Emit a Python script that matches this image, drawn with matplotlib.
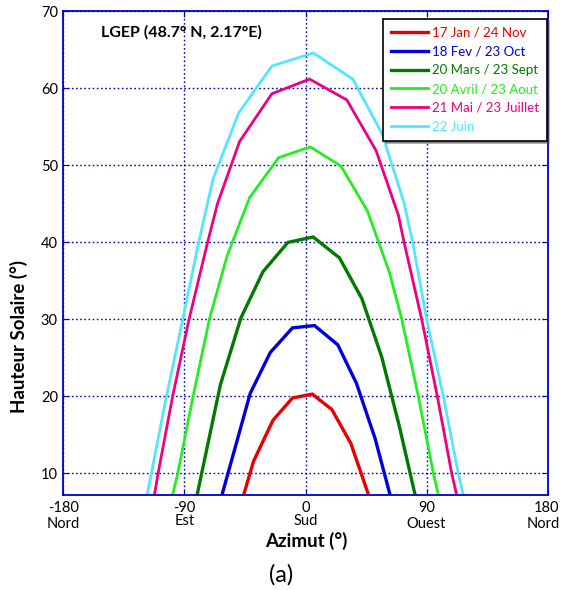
import matplotlib
matplotlib.use("Agg")
import matplotlib.pyplot as plt
import matplotlib.transforms as mtransforms

plt.rcParams['font.family'] = ['Lato', 'DejaVu Sans']

# sun paths: azimut (deg) / hauteur (deg)
labels = ['17 Jan / 24 Nov', '18 Fev / 23 Oct', '20 Mars / 23 Sept',
          '20 Avril / 23 Aout', '21 Mai / 23 Juillet', '22 Juin']
colors = ['#E60000', '#0000DD', '#007A00', '#22EE22', '#EE0080', '#55E5FF']
widths = [2.4, 2.4, 2.4, 2.0, 2.0, 2.0]

az_jan = [-46.0, -38.6, -24.2, -9.7, 5.0, 19.6, 33.7, 46.3]
alt_jan = [7.2, 11.6, 16.9, 19.8, 20.3, 18.3, 13.9, 7.5]

az_fev = [-62.1, -41.1, -26.2, -9.7, 6.7, 24.0, 37.9, 51.8, 62.9]
alt_fev = [7.2, 20.4, 25.7, 28.9, 29.2, 26.7, 21.7, 14.5, 7.2]

az_mars = [-80.6, -63.3, -48.0, -31.6, -13.1, 5.7, 25.2, 41.9, 56.7, 69.8, 81.5]
alt_mars = [7.2, 21.5, 30.2, 36.2, 40.0, 40.7, 38.0, 32.7, 25.1, 16.1, 7.2]

az_avril = [-98.8, -95.0, -83.6, -71.5, -58.4, -41.6, -20.0, 3.5, 26.4,
            46.0, 62.4, 71.6, 83.9, 95.1, 98.8]
alt_avril = [7.2, 10.0, 20.0, 30.0, 38.2, 45.8, 51.0, 52.4, 49.9,
             44.1, 36.1, 30.0, 20.0, 10.0, 7.2]

az_mai = [-112.3, -109.6, -98.8, -86.6, -72.8, -65.3, -49.0, -25.0, 3.0,
          30.7, 52.5, 69.1, 73.3, 86.4, 98.0, 108.7, 112.4]
alt_mai = [7.2, 10.0, 20.0, 30.0, 40.0, 45.1, 53.1, 59.3, 61.2,
           58.5, 51.9, 43.5, 40.0, 30.0, 20.0, 10.0, 7.2]

az_juin = [-117.8, -114.6, -103.4, -91.3, -79.4, -68.8, -49.7, -25.0, 5.7,
           35.2, 57.2, 73.3, 79.7, 90.1, 102.5, 113.6, 117.3]
alt_juin = [7.2, 10.0, 20.0, 30.0, 40.0, 48.2, 56.8, 62.9, 64.6,
            61.2, 54.0, 45.1, 40.0, 30.0, 20.0, 10.0, 7.2]

azimuts = [az_jan, az_fev, az_mars, az_avril, az_mai, az_juin]
hauteurs = [alt_jan, alt_fev, alt_mars, alt_avril, alt_mai, alt_juin]

x_ticks = [-180, -90, 0, 90, 180]
x_ticklabels = ['-180\nNord', '-90\nEst', '0\nSud', '90\nOuest', '180\nNord']
y_ticks = [10, 20, 30, 40, 50, 60, 70]

axis_blue = '#0000CC'

fig = plt.figure(figsize=(5.62, 5.9), dpi=100)
ax = fig.add_axes([0.1128, 0.161, 0.8616, 0.8198])

for az, alt, lab, c, w in zip(azimuts, hauteurs, labels, colors, widths):
    ax.plot(az, alt, color=c, lw=w, label=lab, solid_joinstyle='miter')

ax.set_xlim(-180, 180)
ax.set_ylim(7.2, 70)
ax.set_xticks(x_ticks)
ax.set_xticklabels(x_ticklabels)
ax.set_yticks(y_ticks)
ax.tick_params(direction='in', length=4, color=axis_blue, labelsize=10.5,
               top=True, right=True, pad=4)
# Nord / Ouest sit a little lower than Est / Sud in the reference
for t in ax.get_xticklabels():
    if 'Nord' in t.get_text() or 'Ouest' in t.get_text():
        t.set_linespacing(1.25)
    else:
        t.set_linespacing(0.95)
# last label is pushed against the right edge of the picture
last = ax.get_xticklabels()[-1]
last.set_horizontalalignment('right')
last.set_transform(last.get_transform() +
                   mtransforms.ScaledTranslation(12 / 100, 0, fig.dpi_scale_trans))
for sp in ax.spines.values():
    sp.set_color(axis_blue)
    sp.set_linewidth(1.3)
ax.grid(True, color=axis_blue, linestyle=(0, (1.2, 1.8)), linewidth=1.0)

ax.text(-152, 67.3, 'LGEP (48.7° N, 2.17°E)', fontsize=11.5,
        fontweight='bold', va='center', ha='left')

leg = ax.legend(loc='upper right', bbox_to_anchor=(0.998, 0.985),
                borderaxespad=0, fontsize=9.5, frameon=True, fancybox=False,
                shadow=True, handlelength=2.85, handletextpad=0.25,
                labelspacing=0.52, borderpad=0.6)
leg.get_frame().set_edgecolor('black')
leg.get_frame().set_linewidth(1.2)
for txt, c in zip(leg.get_texts(), colors):
    txt.set_color(c)

fig.text(0.545, 0.083, 'Azimut (°)', fontsize=13.5, fontweight='bold',
         ha='center', va='center')
fig.text(0.034, 0.43, 'Hauteur Solaire (°)', fontsize=13.5,
         fontweight='bold', rotation=90, ha='center', va='center')
fig.text(0.5, 0.025, '(a)', fontsize=17, ha='center', va='center')

fig.savefig('out.png', dpi=100)
